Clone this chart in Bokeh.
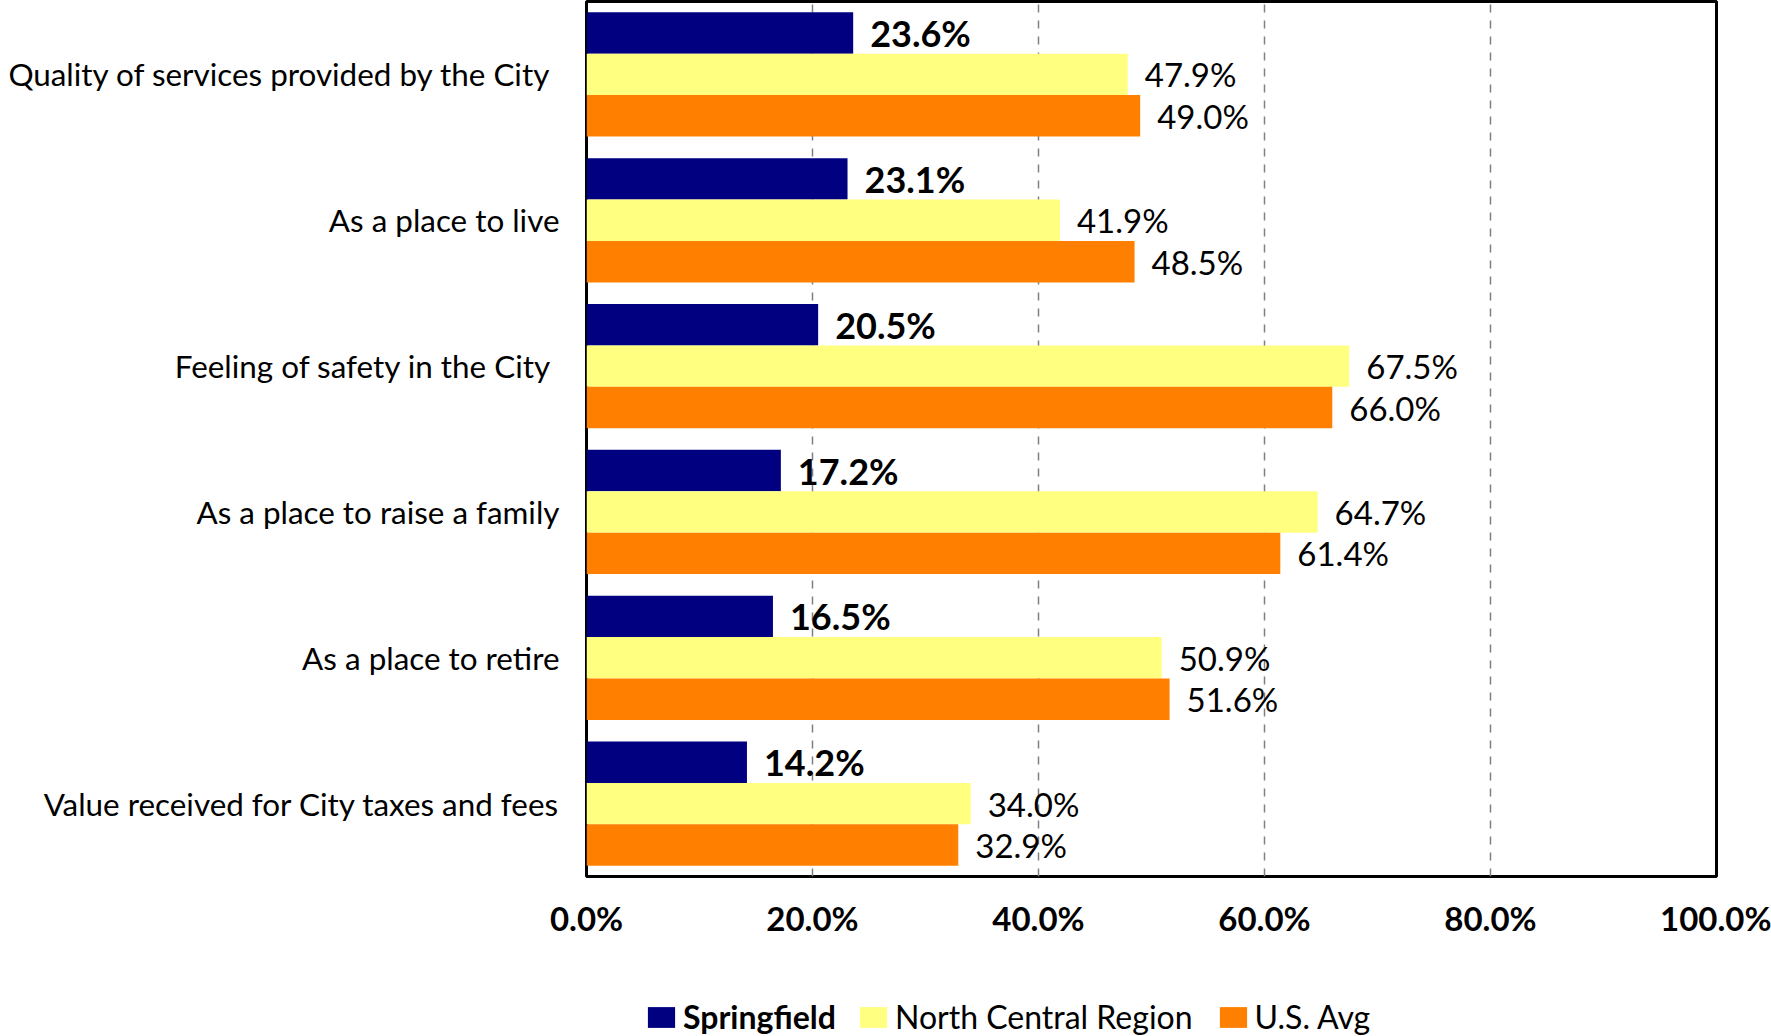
from bokeh.plotting import figure
from bokeh.layouts import column
from bokeh.models import (FactorRange, Range1d, ColumnDataSource, Legend, LegendItem,
                          FixedTicker, NumeralTickFormatter)
from bokeh.transform import dodge
from bokeh.core.properties import value
from bokeh.embed import file_html
from bokeh.resources import INLINE

categories = [
    "Quality of services provided by the City ",
    "As a place to live",
    "Feeling of safety in the City ",
    "As a place to raise a family",
    "As a place to retire",
    "Value received for City taxes and fees",
]
springfield = [23.6, 23.1, 20.5, 17.2, 16.5, 14.2]
north_central = [47.9, 41.9, 67.5, 64.7, 50.9, 34.0]
us_avg = [49.0, 48.5, 66.0, 61.4, 51.6, 32.9]
series_names = ["Springfield", "North Central Region", "U.S. Avg"]
x_ticks = [0.0, 0.2, 0.4, 0.6, 0.8, 1.0]

colors = ["#000080", "#FFFF80", "#FF8000"]
offsets = [0.284, 0.0, -0.284]
FONT = "Lato"

p = figure(width=1771, height=955, output_backend="svg", toolbar_location=None,
           y_range=FactorRange(factors=list(reversed(categories)), range_padding=0),
           x_range=Range1d(0, 1),
           min_border_left=586, min_border_right=55, min_border_top=1, min_border_bottom=79)

for name, vals, col, off in zip(series_names, [springfield, north_central, us_avg], colors, offsets):
    src = ColumnDataSource(dict(cat=categories, val=[v / 100 for v in vals],
                                label=["%.1f%%" % v for v in vals]))
    p.hbar(y=dodge("cat", off, range=p.y_range), left=0, right="val", height=0.284,
           fill_color=col, line_color=None, source=src)
    bold = name == "Springfield"
    p.text(x="val", y=dodge("cat", off, range=p.y_range), text="label", source=src,
           x_offset=17, text_baseline="middle", text_align="left",
           text_font=value(FONT), text_font_size="36px" if bold else "33px",
           text_font_style="bold" if bold else "normal", text_color="black")

p.outline_line_color = "black"
p.outline_line_width = 3
p.outline_line_alpha = 1

p.xaxis.ticker = FixedTicker(ticks=x_ticks)
p.xaxis.formatter = NumeralTickFormatter(format="0.0%")
p.xaxis.axis_line_color = None
p.xaxis.major_tick_line_color = None
p.xaxis.minor_tick_line_color = None
p.xaxis.major_label_text_font = FONT
p.xaxis.major_label_text_font_size = "33px"
p.xaxis.major_label_text_font_style = "bold"
p.xaxis.major_label_text_color = "black"
p.xaxis.major_label_standoff = 15

p.yaxis.axis_line_color = None
p.yaxis.major_tick_line_color = None
p.yaxis.minor_tick_line_color = None
p.yaxis.major_label_text_font = FONT
p.yaxis.major_label_text_font_size = "31.4px"
p.yaxis.major_label_text_color = "black"
p.yaxis.major_label_standoff = 21

p.ygrid.grid_line_color = None
p.xgrid.ticker = FixedTicker(ticks=x_ticks)
p.xgrid.grid_line_color = "#808080"
p.xgrid.grid_line_dash = "8 8"
p.xgrid.grid_line_width = 1.5

# legend strip below the chart (its frame is aligned with the chart's frame)
lf = figure(width=1771, height=81, output_backend="svg", toolbar_location=None,
            x_range=Range1d(0, 1), y_range=Range1d(0, 1),
            min_border_left=0, min_border_right=0, min_border_top=0, min_border_bottom=0)
lf.axis.visible = False
lf.grid.grid_line_color = None
lf.outline_line_color = None
leg_renderers = []
for col in colors:
    # zero-size placeholder bars outside the visible range, used only for legend swatches
    leg_renderers.append(lf.hbar(y=[5], left=[0], right=[0], height=0.1,
                                 fill_color=col, line_color=None))

def make_legend(items, loc, style):
    return Legend(items=items, location=loc, orientation="horizontal",
                  label_text_font=FONT, label_text_font_size="32px",
                  label_text_font_style=style, label_text_color="black",
                  glyph_width=34, glyph_height=26, label_standoff=5, spacing=23,
                  padding=0, margin=0, border_line_color=None, background_fill_alpha=0)

leg1 = make_legend([LegendItem(label=series_names[0], renderers=[leg_renderers[0]])], (58, 0), "bold")
leg2 = make_legend([LegendItem(label=series_names[1], renderers=[leg_renderers[1]]),
                    LegendItem(label=series_names[2], renderers=[leg_renderers[2]])], (270, 0), "normal")
lf.add_layout(leg1)
lf.add_layout(leg2)

layout = column(p, lf, spacing=0)
open("out.html", "w").write(file_html(layout, INLINE))
